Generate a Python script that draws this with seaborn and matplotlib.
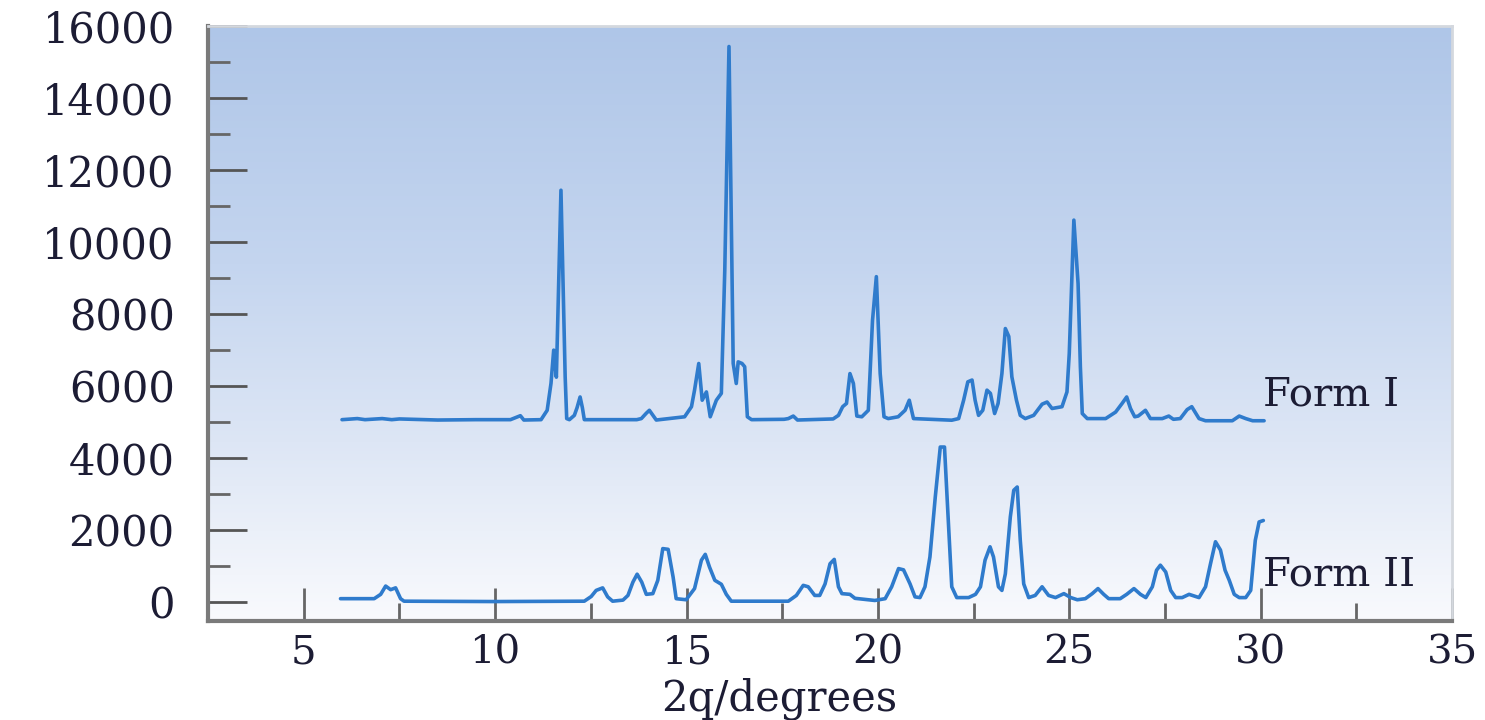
import numpy as np
import pandas as pd
import matplotlib
matplotlib.use("Agg")
import matplotlib.pyplot as plt
from matplotlib.colors import LinearSegmentedColormap
from matplotlib.ticker import MultipleLocator
import seaborn as sns

# data (2theta in degrees, counts)
form1_x = [6.00, 6.40, 6.60, 7.05, 7.30, 7.50, 8.50, 9.50, 10.40, 10.66, 10.75, 11.20,
           11.36, 11.46, 11.53, 11.60, 11.72, 11.83, 11.87, 11.94, 12.07, 12.14, 12.22,
           12.28, 12.33, 13.00, 13.70, 13.82, 13.95, 14.03, 14.21, 14.95, 15.13, 15.21,
           15.32, 15.41, 15.52, 15.62, 15.78, 15.91, 16.00, 16.11, 16.22, 16.30, 16.35,
           16.45, 16.52, 16.59, 16.70, 17.55, 17.66, 17.79, 17.90, 18.83, 18.97, 19.08,
           19.18, 19.27, 19.36, 19.45, 19.58, 19.75, 19.86, 19.96, 20.06, 20.16, 20.27,
           20.53, 20.71, 20.82, 20.93, 21.93, 22.11, 22.24, 22.35, 22.46, 22.54, 22.63,
           22.74, 22.85, 22.94, 23.05, 23.14, 23.24, 23.33, 23.42, 23.50, 23.62, 23.72,
           23.85, 24.07, 24.29, 24.42, 24.55, 24.81, 24.94, 25.00, 25.12, 25.23, 25.29,
           25.34, 25.47, 25.95, 26.21, 26.38, 26.50, 26.60, 26.71, 26.80, 26.99, 27.12,
           27.43, 27.60, 27.72, 27.90, 28.08, 28.20, 28.39, 28.56, 29.26, 29.44, 29.61,
           29.79, 30.09]
form1_y = [5070, 5100, 5070, 5100, 5070, 5090, 5060, 5070, 5070, 5180, 5060, 5070,
           5330, 6080, 7000, 6250, 11440, 6260, 5100, 5070, 5190, 5400, 5700,
           5400, 5070, 5070, 5070, 5100, 5250, 5330, 5060, 5150, 5430, 5890,
           6630, 5610, 5840, 5150, 5610, 5800, 9220, 15430, 6630, 6075, 6675,
           6630, 6540, 5150, 5070, 5080, 5100, 5170, 5060, 5090, 5190, 5430,
           5520, 6350, 6075, 5170, 5150, 5330, 7830, 9040, 6350, 5150, 5100,
           5150, 5330, 5610, 5100, 5055, 5100, 5610, 6120, 6170, 5610, 5190,
           5330, 5890, 5800, 5240, 5520, 6350, 7600, 7380, 6260, 5610, 5190,
           5100, 5190, 5500, 5560, 5380, 5430, 5840, 6910, 10610, 8850, 6540,
           5240, 5100, 5100, 5280, 5520, 5700, 5380, 5150, 5170, 5330, 5100,
           5100, 5170, 5080, 5100, 5350, 5430, 5100, 5040, 5040, 5170, 5100,
           5040, 5040]

form2_x = [5.96, 6.84, 7.01, 7.14, 7.27, 7.40, 7.53, 7.62, 9.98, 12.33, 12.51, 12.64,
           12.81, 12.94, 13.07, 13.34, 13.47, 13.60, 13.71, 13.83, 13.95, 14.12, 14.25,
           14.38, 14.52, 14.65, 14.73, 14.99, 15.21, 15.39, 15.49, 15.60, 15.74, 15.91,
           16.04, 16.17, 17.66, 17.87, 18.05, 18.18, 18.35, 18.48, 18.62, 18.75, 18.86,
           18.97, 19.06, 19.27, 19.40, 19.92, 20.19, 20.36, 20.54, 20.67, 20.84, 20.97,
           21.10, 21.23, 21.36, 21.50, 21.63, 21.74, 21.83, 21.93, 22.06, 22.37, 22.55,
           22.68, 22.80, 22.93, 23.02, 23.15, 23.24, 23.33, 23.46, 23.55, 23.64, 23.72,
           23.81, 23.94, 24.11, 24.29, 24.46, 24.64, 24.86, 25.04, 25.21, 25.42, 25.60,
           25.75, 25.90, 26.03, 26.33, 26.50, 26.69, 26.86, 27.00, 27.17, 27.28, 27.38,
           27.52, 27.65, 27.78, 27.95, 28.13, 28.39, 28.56, 28.69, 28.82, 28.95, 29.07,
           29.18, 29.31, 29.44, 29.61, 29.74, 29.86, 29.96, 30.07]
form2_y = [100, 100, 220, 450, 350, 400, 100, 30, 20, 30, 160, 330,
           400, 150, 30, 60, 190, 560, 780, 560, 220, 240, 610,
           1490, 1470, 700, 100, 70, 380, 1170, 1330, 980, 610, 500,
           220, 30, 30, 190, 470, 430, 190, 190, 510, 1070, 1190,
           430, 240, 220, 110, 50, 100, 430, 935, 900, 510, 150,
           130, 430, 1260, 2930, 4310, 4310, 2460, 430, 130, 130, 220,
           430, 1170, 1540, 1260, 430, 330, 790, 2370, 3110, 3200, 1720,
           510, 130, 190, 430, 190, 130, 240, 130, 70, 100, 240,
           380, 220, 100, 100, 220, 380, 220, 130, 430, 890, 1030,
           840, 330, 130, 130, 220, 130, 430, 1070, 1680, 1450, 890,
           610, 220, 130, 130, 330, 1720, 2230, 2270]

form_labels = ["Form I", "Form II"]
x_ticks = [5, 10, 15, 20, 25, 30, 35]
y_ticks = list(range(0, 16001, 2000))

sns.set_style("ticks")
plt.rcParams['font.family'] = ['DejaVu Serif']

fig = plt.figure(figsize=(14.85, 7.2), dpi=100)
ax = fig.add_axes([0.1401, 0.1375, 0.8377, 0.8264])

xlim = (2.5, 35)
ylim = (-520, 16000)

# blue to white background gradient
grad_cmap = LinearSegmentedColormap.from_list(
    "bg", [(0.0, "#f9fafd"), (0.3, "#dde6f5"), (0.6, "#c4d5ef"), (1.0, "#afc6e8")])
grad = np.linspace(0, 1, 256).reshape(-1, 1)
ax.imshow(grad, cmap=grad_cmap, aspect="auto", origin="lower",
          extent=[xlim[0], xlim[1], ylim[0], ylim[1]], zorder=0)

line_color = "#2f7bcc"
df1 = pd.DataFrame({"x": form1_x, "y": form1_y})
df2 = pd.DataFrame({"x": form2_x, "y": form2_y})
sns.lineplot(data=df1, x="x", y="y", ax=ax, color=line_color, lw=2.6,
             sort=False, estimator=None, zorder=3)
sns.lineplot(data=df2, x="x", y="y", ax=ax, color=line_color, lw=2.6,
             sort=False, estimator=None, zorder=3)

ax.set_xlim(*xlim)
ax.set_ylim(*ylim)
ax.set_xticks(x_ticks)
ax.set_yticks(y_ticks)
ax.xaxis.set_minor_locator(MultipleLocator(2.5))
ax.yaxis.set_minor_locator(MultipleLocator(1000))

lab_color = "#1c1c34"
ax.tick_params(axis="y", which="major", direction="in", length=28, width=2,
               color="#555555", pad=24, labelsize=30, labelcolor=lab_color)
ax.tick_params(axis="y", which="minor", direction="in", length=16, width=2,
               color="#666666")
ax.tick_params(axis="x", which="major", direction="in", length=24, width=2,
               color="#666666", pad=10, labelsize=29, labelcolor=lab_color)
ax.tick_params(axis="x", which="minor", direction="in", length=13, width=2,
               color="#666666")

ax.set_xlabel("")
ax.set_ylabel("")
for side in ["left", "bottom"]:
    ax.spines[side].set_color("#7a7a7a")
    ax.spines[side].set_linewidth(3)
for side in ["top", "right"]:
    ax.spines[side].set_color("#d4d8de")
    ax.spines[side].set_linewidth(2)

# labels next to the curves
ax.text(30.05, 5470, form_labels[0], fontsize=29, color=lab_color,
        ha="left", va="baseline", zorder=4)
ax.text(30.05, 470, form_labels[1], fontsize=29, color=lab_color,
        ha="left", va="baseline", zorder=4, clip_on=True)

fig.text(0.5246, 10 / 720, "2q/degrees", fontsize=30, color=lab_color,
         ha="center", va="baseline")

fig.savefig("out.png", dpi=100, facecolor="white")
